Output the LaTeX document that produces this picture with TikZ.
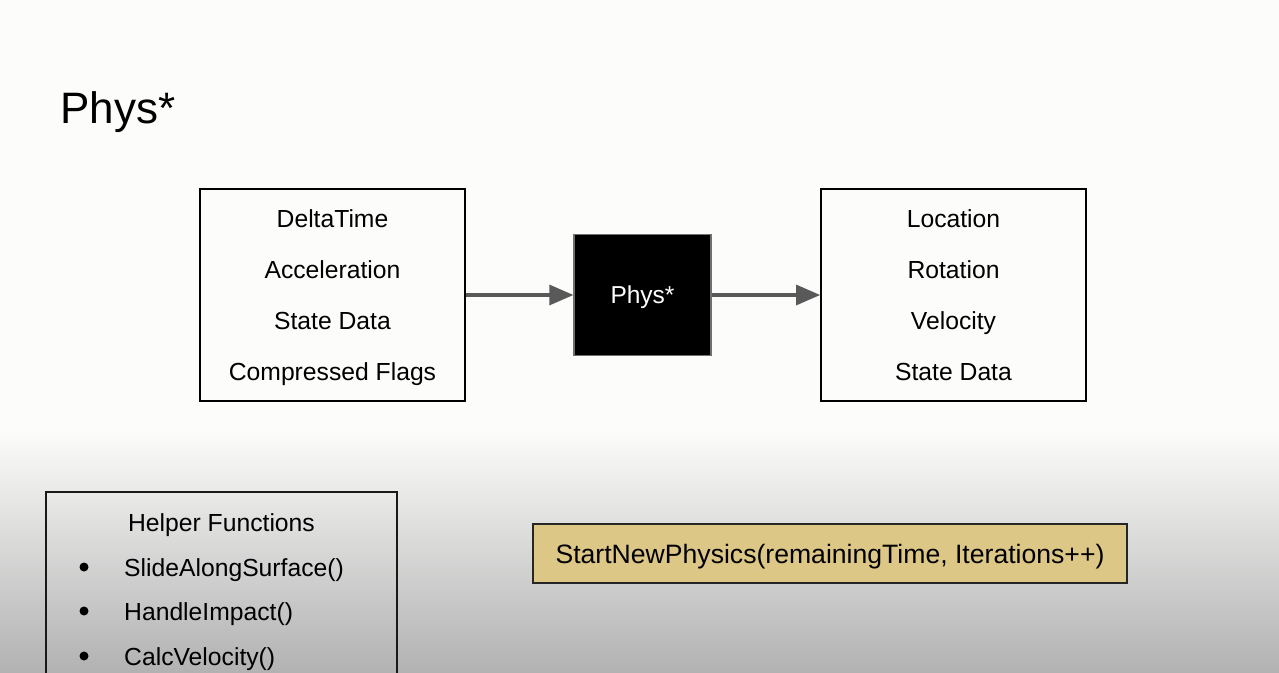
\documentclass[tikz,border=0pt]{standalone}
\usepackage{fontspec}
\setmainfont{Liberation Sans}
\definecolor{bgtop}{HTML}{FCFCFB}
\definecolor{bgbot}{HTML}{B2B2B2}
\definecolor{arrowgray}{HTML}{595959}
\definecolor{gold}{HTML}{DDC787}
\definecolor{edgegray}{HTML}{707070}
\tikzset{
  listbox/.style={draw=black, line width=2pt, minimum width=265pt, minimum height=212pt, inner sep=0pt},
  blackbox/.style={fill=black, draw=edgegray, line width=1.5pt, minimum width=137pt,
    minimum height=121pt, text=white, text depth=0pt, font=\fontsize{24.5}{30}\selectfont},
  goldbox/.style={fill=gold, draw=black!85, line width=1.5pt, minimum width=594pt,
    minimum height=59pt, text depth=0pt, font=\fontsize{26.6}{32}\selectfont},
  shaft/.style={draw=arrowgray, line width=4pt},
  tip/.style={fill=arrowgray},
  lbl/.style={font=\fontsize{24.7}{30}\selectfont, inner sep=0pt},
  dot/.style={circle, fill=black, minimum size=9pt, inner sep=0pt},
}
\begin{document}
\begin{tikzpicture}[x=1pt,y=-1pt]
\useasboundingbox (0,0) rectangle (1279,672);
\clip (0,0) rectangle (1279,672);
% background
\fill[bgtop] (0,0) rectangle (1279,430);
\shade[top color=bgtop, bottom color=bgbot] (0,430) rectangle (1279,672);
% title
\node[anchor=base west, inner sep=0pt, font=\fontsize{44}{52}\selectfont] (title) at (60,123) {Phys*};
% main flow
\node[listbox] (inbox) at (332.5,295) {};
\node[lbl, anchor=base] (in1) at (332.5,227) {DeltaTime};
\node[lbl, anchor=base] (in2) at (332.5,278.3) {Acceleration};
\node[lbl, anchor=base] (in3) at (332.5,329.6) {State Data};
\node[lbl, anchor=base] (in4) at (332.5,380.9) {Compressed Flags};
\node[blackbox] (phys) at (642.5,295) {Phys*};
\node[listbox] (outbox) at (953.5,295) {};
\node[lbl, anchor=base] (out1) at (953.5,227) {Location};
\node[lbl, anchor=base] (out2) at (953.5,278.3) {Rotation};
\node[lbl, anchor=base] (out3) at (953.5,329.6) {Velocity};
\node[lbl, anchor=base] (out4) at (953.5,380.9) {State Data};
% arrows
\draw[shaft] (inbox.east) -- ([xshift=-23pt]phys.west);
\fill[tip] (phys.west) -- ++(-24,-10.5) -- ++(0,21) -- cycle;
\draw[shaft] (phys.east) -- ([xshift=-23pt]outbox.west);
\fill[tip] (outbox.west) -- ++(-24,-10.5) -- ++(0,21) -- cycle;
% helper functions
\draw[draw=black!90, line width=2.5pt] (46,492) rectangle (397,690);
\node[lbl, anchor=base] (hf) at (221.5,531) {Helper Functions};
\node[dot] (b1) at (84,567) {};
\node[dot] (b2) at (84,611) {};
\node[dot] (b3) at (84,656) {};
\node[lbl, anchor=base west] (f1) at (124,576) {SlideAlongSurface()};
\node[lbl, anchor=base west] (f2) at (124,620) {HandleImpact()};
\node[lbl, anchor=base west] (f3) at (124,665) {CalcVelocity()};
% restart call
\node[goldbox] (restart) at (830,553.5) {StartNewPhysics(remainingTime, Iterations++)};
\end{tikzpicture}
\end{document}
